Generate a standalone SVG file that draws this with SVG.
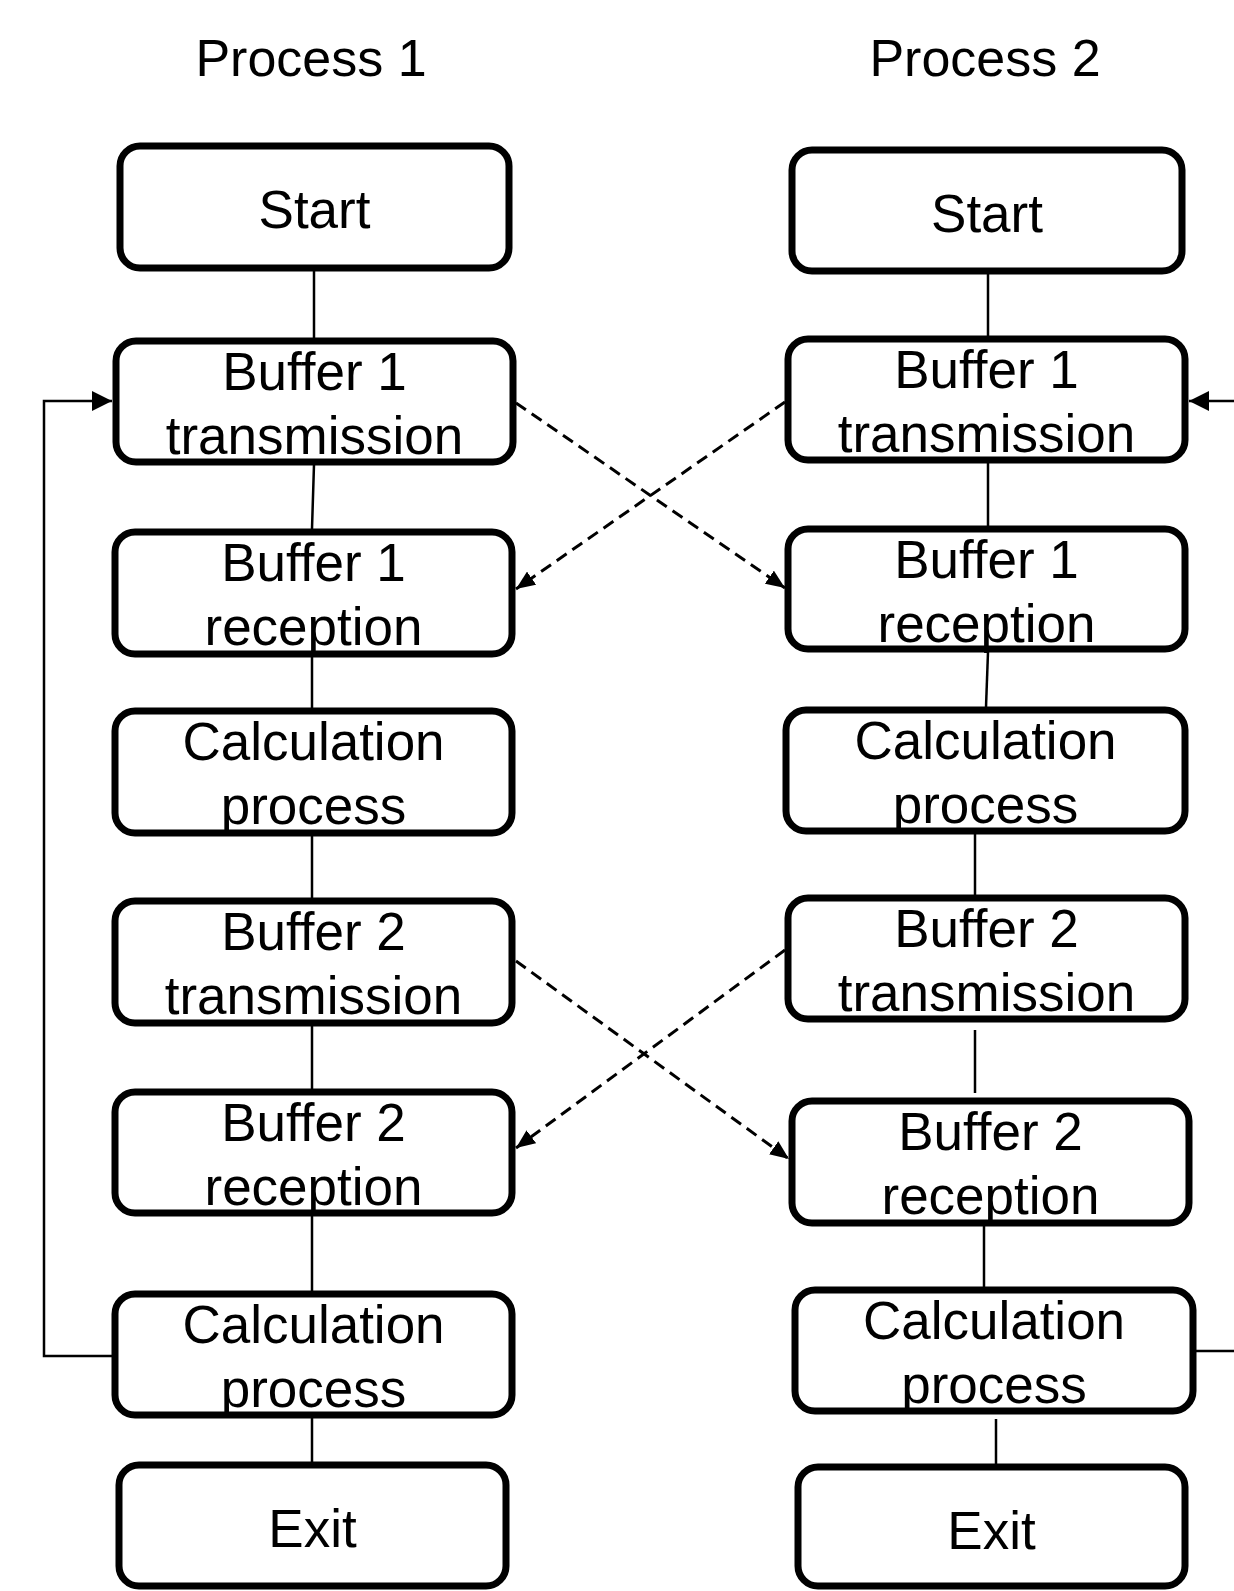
<svg xmlns="http://www.w3.org/2000/svg" width="1234" height="1591" viewBox="0 0 1234 1591">
  <style>
    .box { fill: #ffffff; stroke: #000000; stroke-width: 7; }
    .lbl { font-family: "Liberation Sans", Arial, sans-serif; font-size: 53px; fill: #000000; text-anchor: middle; }
    .title { font-family: "Liberation Sans", Arial, sans-serif; font-size: 52px; fill: #000000; text-anchor: middle; }
    .link { fill: none; stroke: #000000; stroke-width: 2.5; }
    .dash { fill: none; stroke: #000000; stroke-width: 3; stroke-dasharray: 12 7; }
  </style>
  <defs>
    <marker id="arrow" markerUnits="userSpaceOnUse" markerWidth="20" markerHeight="20" refX="20" refY="10" orient="auto">
      <path d="M0,0 L20,10 L0,20 z" fill="#000000"/>
    </marker>
    <marker id="arrow-dash" markerUnits="userSpaceOnUse" markerWidth="19" markerHeight="16" refX="19" refY="8" orient="auto">
      <path d="M0,0 L19,8 L0,16 z" fill="#000000"/>
    </marker>
  </defs>
  <rect width="1234" height="1591" fill="#ffffff"/>

  <!-- column headings -->
  <text class="title" x="311" y="76">Process 1</text>
  <text class="title" x="985" y="76">Process 2</text>

  <!-- connectors -->
  <g id="connectors">
    <!-- process 1 chain -->
    <line class="link" x1="314" y1="271" x2="314" y2="338"/>
    <line class="link" x1="314" y1="465" x2="312" y2="529"/>
    <line class="link" x1="312" y1="657" x2="312" y2="708"/>
    <line class="link" x1="312" y1="836" x2="312" y2="898"/>
    <line class="link" x1="312" y1="1026" x2="312" y2="1089"/>
    <line class="link" x1="312" y1="1216" x2="312" y2="1291"/>
    <line class="link" x1="312" y1="1418" x2="312" y2="1462"/>
    <!-- process 2 chain -->
    <line class="link" x1="988" y1="274" x2="988" y2="336"/>
    <line class="link" x1="988" y1="463" x2="988" y2="526"/>
    <line class="link" x1="988" y1="652" x2="986" y2="707"/>
    <line class="link" x1="975" y1="834" x2="975" y2="895"/>
    <line class="link" x1="975" y1="1030" x2="975" y2="1093"/>
    <line class="link" x1="984" y1="1226" x2="984" y2="1287"/>
    <line class="link" x1="996" y1="1419" x2="996" y2="1464"/>
    <!-- loops back to buffer 1 transmission -->
    <polyline class="link" points="113,1356 44,1356 44,401 112,401" marker-end="url(#arrow)"/>
    <line class="link" x1="1196" y1="1351" x2="1240" y2="1351"/>
    <line class="link" x1="1240" y1="401" x2="1189" y2="401" marker-end="url(#arrow)"/>
    <!-- buffer exchanges between the processes -->
    <line class="dash" x1="516" y1="403" x2="785" y2="588" marker-end="url(#arrow-dash)"/>
    <line class="dash" x1="785" y1="402" x2="516" y2="589" marker-end="url(#arrow-dash)"/>
    <line class="dash" x1="516" y1="961" x2="789" y2="1159" marker-end="url(#arrow-dash)"/>
    <line class="dash" x1="785" y1="950" x2="516" y2="1148" marker-end="url(#arrow-dash)"/>
  </g>

  <!-- process 1 nodes -->
  <g id="p1-start">
    <rect class="box" x="120" y="146" width="389" height="122" rx="20"/>
    <text class="lbl" x="314.5" y="228">Start</text>
  </g>
  <g id="p1-buf1-tx">
    <rect class="box" x="116" y="341" width="397" height="121" rx="20"/>
    <text class="lbl" x="314.5" y="390">Buffer 1</text>
    <text class="lbl" x="314.5" y="454">transmission</text>
  </g>
  <g id="p1-buf1-rx">
    <rect class="box" x="115" y="532" width="397" height="122" rx="20"/>
    <text class="lbl" x="313.5" y="581">Buffer 1</text>
    <text class="lbl" x="313.5" y="645">reception</text>
  </g>
  <g id="p1-calc1">
    <rect class="box" x="115" y="711" width="397" height="122" rx="20"/>
    <text class="lbl" x="313.5" y="760">Calculation</text>
    <text class="lbl" x="313.5" y="824">process</text>
  </g>
  <g id="p1-buf2-tx">
    <rect class="box" x="115" y="901" width="397" height="122" rx="20"/>
    <text class="lbl" x="313.5" y="950">Buffer 2</text>
    <text class="lbl" x="313.5" y="1014">transmission</text>
  </g>
  <g id="p1-buf2-rx">
    <rect class="box" x="115" y="1092" width="397" height="121" rx="20"/>
    <text class="lbl" x="313.5" y="1141">Buffer 2</text>
    <text class="lbl" x="313.5" y="1205">reception</text>
  </g>
  <g id="p1-calc2">
    <rect class="box" x="115" y="1294" width="397" height="121" rx="20"/>
    <text class="lbl" x="313.5" y="1343">Calculation</text>
    <text class="lbl" x="313.5" y="1407">process</text>
  </g>
  <g id="p1-exit">
    <rect class="box" x="119" y="1465" width="387" height="121" rx="20"/>
    <text class="lbl" x="312.5" y="1547">Exit</text>
  </g>

  <!-- process 2 nodes -->
  <g id="p2-start">
    <rect class="box" x="792" y="150" width="390" height="121" rx="20"/>
    <text class="lbl" x="987" y="232">Start</text>
  </g>
  <g id="p2-buf1-tx">
    <rect class="box" x="788" y="339" width="397" height="121" rx="20"/>
    <text class="lbl" x="986.5" y="388">Buffer 1</text>
    <text class="lbl" x="986.5" y="452">transmission</text>
  </g>
  <g id="p2-buf1-rx">
    <rect class="box" x="788" y="529" width="397" height="120" rx="20"/>
    <text class="lbl" x="986.5" y="578">Buffer 1</text>
    <text class="lbl" x="986.5" y="642">reception</text>
  </g>
  <g id="p2-calc1">
    <rect class="box" x="786" y="710" width="399" height="121" rx="20"/>
    <text class="lbl" x="985.5" y="759">Calculation</text>
    <text class="lbl" x="985.5" y="823">process</text>
  </g>
  <g id="p2-buf2-tx">
    <rect class="box" x="788" y="898" width="397" height="121" rx="20"/>
    <text class="lbl" x="986.5" y="947">Buffer 2</text>
    <text class="lbl" x="986.5" y="1011">transmission</text>
  </g>
  <g id="p2-buf2-rx">
    <rect class="box" x="792" y="1101" width="397" height="122" rx="20"/>
    <text class="lbl" x="990.5" y="1150">Buffer 2</text>
    <text class="lbl" x="990.5" y="1214">reception</text>
  </g>
  <g id="p2-calc2">
    <rect class="box" x="795" y="1290" width="398" height="121" rx="20"/>
    <text class="lbl" x="994" y="1339">Calculation</text>
    <text class="lbl" x="994" y="1403">process</text>
  </g>
  <g id="p2-exit">
    <rect class="box" x="798" y="1467" width="387" height="119" rx="20"/>
    <text class="lbl" x="991.5" y="1549">Exit</text>
  </g>
</svg>
